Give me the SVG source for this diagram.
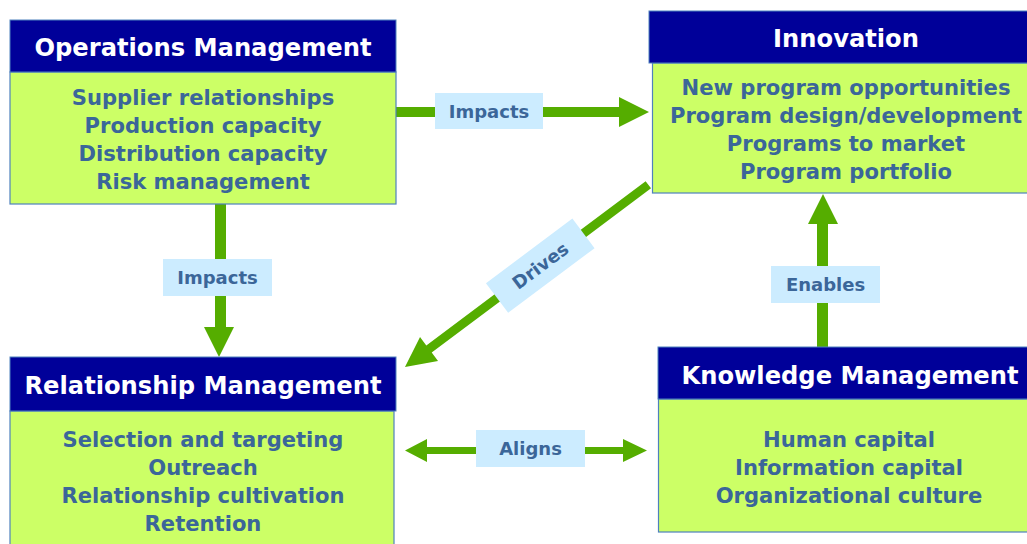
<svg xmlns="http://www.w3.org/2000/svg" width="1027" height="544" viewBox="0 0 1027 544">
<style>
.hd{fill:#000099;stroke:#4F81BD;stroke-width:1}
.bd{fill:#CCFF66;stroke:#4F81BD;stroke-width:1.2}
.ht{font-family:"DejaVu Sans",Verdana,sans-serif;font-weight:bold;font-size:24.2px;fill:#FFFFFF;text-anchor:middle}
.bt{font-family:"DejaVu Sans",Verdana,sans-serif;font-weight:bold;font-size:21.1px;fill:#3B6699;text-anchor:middle}
.lb{fill:#CCECFF}
.lt{font-family:"DejaVu Sans",Verdana,sans-serif;font-weight:bold;font-size:18px;fill:#3B6699;text-anchor:middle}
.ar{fill:#55AD00}
</style>
<rect width="1027" height="544" fill="#FFFFFF"/>
<g id="connectors">
  <g id="ops-innov">
    <polygon class="ar" points="396,107 619,107 619,97 649,112 619,127 619,117 396,117"/>
    <rect class="lb" x="435" y="93" width="108" height="36"/>
    <text class="lt" x="489" y="117.5">Impacts</text>
  </g>
  <g id="ops-rel">
    <polygon class="ar" points="215,204 226,204 226,327 234,327 219,357 204,327 215,327"/>
    <rect class="lb" x="163" y="259" width="109" height="37"/>
    <text class="lt" x="217.5" y="284">Impacts</text>
  </g>
  <g id="know-innov">
    <polygon class="ar" points="817,347 828,347 828,224 838,224 823,194 808,224 817,224"/>
    <rect class="lb" x="771" y="266" width="109" height="37"/>
    <text class="lt" x="825.5" y="291">Enables</text>
  </g>
  <g id="innov-rel" transform="translate(405,367) rotate(-36.83)">
    <polygon class="ar" points="0,0 30,-15 30,-4.5 304,-4.5 304,4.5 30,4.5 30,15"/>
    <rect class="lb" x="115" y="-18.5" width="108" height="37"/>
    <text class="lt" x="169" y="6.5">Drives</text>
  </g>
  <g id="rel-know">
    <polygon class="ar" points="405,450.5 427,439 427,447 623,447 623,439 647,450.5 623,462 623,454 427,454 427,462"/>
    <rect class="lb" x="476" y="430" width="109" height="37"/>
    <text class="lt" x="530.5" y="455">Aligns</text>
  </g>
</g>
<g id="operations">
  <rect class="bd" x="10" y="72" width="386" height="132"/>
  <rect class="hd" x="10" y="20" width="386" height="52"/>
  <text class="ht" x="203" y="56">Operations Management</text>
  <text class="bt" x="203" y="104.5">Supplier relationships</text>
  <text class="bt" x="203" y="133">Production capacity</text>
  <text class="bt" x="203" y="161">Distribution capacity</text>
  <text class="bt" x="203" y="189">Risk management</text>
</g>
<g id="innovation">
  <rect class="bd" x="652.5" y="63" width="390" height="130"/>
  <rect class="hd" x="649" y="11" width="394" height="52"/>
  <text class="ht" x="846" y="47">Innovation</text>
  <text class="bt" x="846" y="94.5">New program opportunities</text>
  <text class="bt" x="846" y="122.5">Program design/development</text>
  <text class="bt" x="846" y="150.5">Programs to market</text>
  <text class="bt" x="846" y="178.5">Program portfolio</text>
</g>
<g id="relationship">
  <rect class="bd" x="10" y="411" width="384" height="140"/>
  <rect class="hd" x="10" y="357" width="386" height="54"/>
  <text class="ht" x="203" y="394">Relationship Management</text>
  <text class="bt" x="203" y="446.5">Selection and targeting</text>
  <text class="bt" x="203" y="474.5">Outreach</text>
  <text class="bt" x="203" y="502.5">Relationship cultivation</text>
  <text class="bt" x="203" y="530.5">Retention</text>
</g>
<g id="knowledge">
  <rect class="bd" x="658.5" y="399" width="390" height="133"/>
  <rect class="hd" x="658" y="347" width="390" height="52"/>
  <text class="ht" x="850" y="384">Knowledge Management</text>
  <text class="bt" x="849" y="446.5">Human capital</text>
  <text class="bt" x="849" y="474.5">Information capital</text>
  <text class="bt" x="849" y="502.5">Organizational culture</text>
</g>
</svg>
